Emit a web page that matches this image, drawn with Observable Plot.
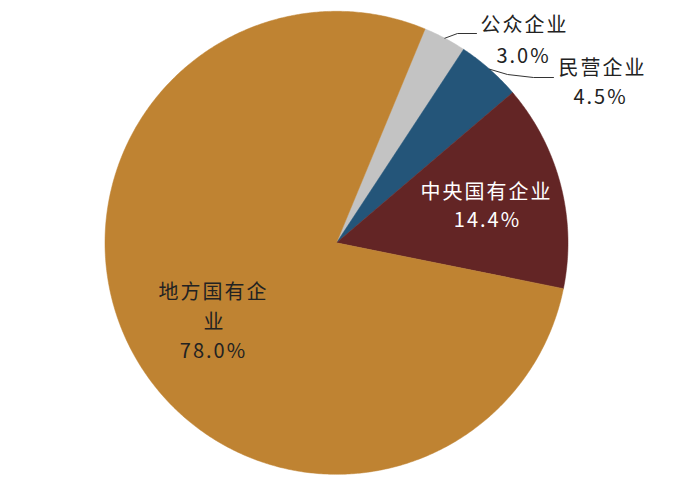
<!DOCTYPE html>
<html><head><meta charset="utf-8">
<script src="https://cdn.jsdelivr.net/npm/d3@7"></script>
<script src="https://cdn.jsdelivr.net/npm/@observablehq/plot@0.6"></script>
<style>body{margin:0;background:#fff}#chart svg{display:block}</style>
</head><body><div id="chart"></div>
<script>
// ---- data ----
const categories = ["公众企业", "民营企业", "中央国有企业", "地方国有企业"];
const shares = [3.0, 4.5, 14.4, 78.0];
const valueLabels = ["3.0%", "4.5%", "14.4%", "78.0%"];
const colors = ["#c3c3c3", "#245579", "#632525", "#bf8332"];

// ---- layout ----
const W = 700, H = 488, CX = 336, CY = 242.3, R = 231.5, START = 22.5;
const font = "'Noto Sans CJK SC', 'Noto Sans', sans-serif";
const toU = ([px, py]) => [(px - CX) / R, (CY - py) / R];

const total = d3.sum(shares);
let acc = START;
const slices = categories.map((c, i) => {
  const a0 = acc, a1 = acc + shares[i] / total * 360;
  acc = a1;
  return {name: c, a0, a1, mid: (a0 + a1) / 2, color: colors[i]};
});
const pt = (deg, r = 1) => [r * Math.sin(deg * Math.PI / 180), r * Math.cos(deg * Math.PI / 180)];

const slicePts = slices.map(s => {
  const pts = [[0, 0]];
  const n = Math.max(2, Math.ceil((s.a1 - s.a0) / 0.5));
  for (let k = 0; k <= n; k++) pts.push(pt(s.a0 + (s.a1 - s.a0) * k / n));
  pts.push([0, 0]);
  return pts;
});

// label placement (pixel centers), text per line
const labelLayout = [
  {lines: [categories[0], valueLabels[0]], at: [[524, 25], [523, 56]], color: "#222"},
  {lines: [categories[1], valueLabels[1]], at: [[602, 68], [600, 97]], color: "#222"},
  {lines: [categories[2], valueLabels[2]], at: [[486, 192], [487, 220]], color: "#fff"},
  {lines: [categories[3].slice(0, 5), categories[3].slice(5), valueLabels[3]], at: [[213, 292], [214, 322], [213, 351]], color: "#222"}
];
const labels = labelLayout.flatMap(l => l.lines.map((t, j) => {
  const [x, y] = toU(l.at[j]);
  return {text: t, x, y, color: l.color};
}));

const leaders = [
  [pt(slices[0].mid), toU([457, 33]), toU([476, 33])],
  [pt(slices[1].mid), toU([507, 74]), toU([533, 77]), toU([553, 77])]
];

const chart = Plot.plot({
  width: W, height: H,
  margin: 0,
  x: {domain: [-CX / R, (W - CX) / R], axis: null},
  y: {domain: [-(H - CY) / R, CY / R], axis: null},
  style: {background: "#fff", fontFamily: font},
  marks: [
    ...slicePts.map((p, i) => Plot.line(p, {x: d => d[0], y: d => d[1], fill: slices[i].color, stroke: slices[i].color, strokeWidth: 0.5, curve: "linear"})),
    ...leaders.map(p => Plot.line(p, {x: d => d[0], y: d => d[1], stroke: "#333", strokeWidth: 1})),
    Plot.text(labels, {x: "x", y: "y", text: "text", fill: "color", fontSize: 20, fontFamily: font})
  ]
});
chart.querySelectorAll("text").forEach(t => t.style.letterSpacing = "2px");
document.getElementById("chart").append(chart);
</script></body></html>
